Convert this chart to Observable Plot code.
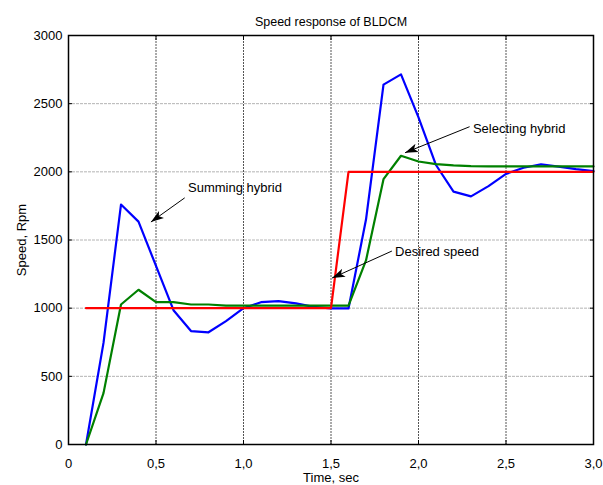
<!DOCTYPE html>
<html>
<head>
<meta charset="utf-8">
<script src="https://cdn.jsdelivr.net/npm/d3@7"></script>
<script src="https://cdn.jsdelivr.net/npm/@observablehq/plot@0.6"></script>
<style>
  html, body { margin: 0; padding: 0; background: #fff; }
  svg { font-family: "Liberation Sans", Arial, sans-serif; }
</style>
</head>
<body>
<div id="chart"></div>
<script>
const time = [0.1,0.2,0.3,0.4,0.5,0.6,0.7,0.8,0.9,1.0,1.1,1.2,1.3,1.4,1.5,1.6,1.7,1.8,1.9,2.0,2.1,2.2,2.3,2.4,2.5,2.6,2.7,2.8,2.9,3.0];
const summingHybrid = [0,745,1760,1635,1310,985,832,823,905,1000,1044,1051,1035,1010,998,998,1650,2640,2715,2400,2050,1855,1820,1895,1985,2030,2055,2038,2020,2005];
const selectingHybrid = [0,377,1027,1135,1044,1044,1027,1027,1018,1018,1018,1018,1018,1018,1018,1018,1350,1946,2118,2076,2057,2048,2042,2040,2040,2040,2040,2040,2040,2040];
const desiredSpeed = [1000,1000,1000,1000,1000,1000,1000,1000,1000,1000,1000,1000,1000,1000,1000,2000,2000,2000,2000,2000,2000,2000,2000,2000,2000,2000,2000,2000,2000,2000];

const xTicks = [0, 0.5, 1.0, 1.5, 2.0, 2.5, 3.0];
const xTickLabels = ["0", "0,5", "1,0", "1,5", "2,0", "2,5", "3,0"];
const yTicks = [0, 500, 1000, 1500, 2000, 2500, 3000];
const yTickLabels = ["0", "500", "1000", "1500", "2000", "2500", "3000"];

const titleText = "Speed response of BLDCM";
const xLabel = "Time, sec";
const yLabel = "Speed, Rpm";

// annotations: label, text anchor point, arrow start, arrow end (data units)
const annotLabels = ["Summing hybrid", "Selecting hybrid", "Desired speed"];
const annotTextX = [0.683, 2.311, 1.866];
const annotTextY = [1882, 2316, 1412];
const annotFromX = [0.664, 2.292, 1.848];
const annotFromY = [1809, 2331, 1419];
const annotToX = [0.471, 1.923, 1.506];
const annotToY = [1632, 2140, 1221];

const series = [
  {name: "Summing hybrid", values: summingHybrid, color: "#0000ff"},
  {name: "Selecting hybrid", values: selectingHybrid, color: "#008000"},
  {name: "Desired speed", values: desiredSpeed, color: "#ff0000"}
];
const rows = series.flatMap(s => time.map((t, i) => ({t, v: s.values[i], name: s.name})));
const annots = annotLabels.map((label, i) => ({
  label, tx: annotTextX[i], ty: annotTextY[i],
  x1: annotFromX[i], y1: annotFromY[i], x2: annotToX[i], y2: annotToY[i]
}));

const fmtX = d => xTickLabels[xTicks.indexOf(d)];
const fmtY = d => yTickLabels[yTicks.indexOf(d)];

const chart = Plot.plot({
  width: 603,
  height: 485,
  marginLeft: 68,
  marginRight: 10,
  marginTop: 35,
  marginBottom: 41,
  style: {fontFamily: "'Liberation Sans', Arial, sans-serif", fontSize: "13px", background: "#fff", color: "#000"},
  x: {domain: [0, 3], ticks: xTicks},
  y: {domain: [0, 3000], ticks: yTicks},
  color: {domain: series.map(s => s.name), range: series.map(s => s.color)},
  marks: [
    Plot.gridX(xTicks, {stroke: "#555", strokeOpacity: 1, strokeWidth: 1, strokeDasharray: "2,1"}),
    Plot.gridY(yTicks, {stroke: "#b4b4b4", strokeOpacity: 1, strokeWidth: 1, strokeDasharray: "3,1"}),
    Plot.axisX(xTicks, {anchor: "bottom", tickSize: -4, tickPadding: 18, tickFormat: fmtX, fontSize: 13, label: xLabel, labelAnchor: "center", labelOffset: 37, labelArrow: "none"}),
    Plot.axisX(xTicks, {anchor: "top", tickSize: -4, tickFormat: () => "", label: null}),
    Plot.axisY(yTicks, {anchor: "left", tickSize: -4, tickPadding: 10, tickFormat: fmtY, fontSize: 13, label: yLabel, labelAnchor: "center", labelOffset: 52, labelArrow: "none"}),
    Plot.axisY(yTicks, {anchor: "right", tickSize: -4, tickFormat: () => "", label: null}),
    Plot.line(rows, {x: "t", y: "v", z: "name", stroke: "name", strokeWidth: 2.2}),
    Plot.frame({stroke: "#000", strokeWidth: 1.5}),
    Plot.link(annots, {x1: "x1", y1: "y1", x2: "x2", y2: "y2", stroke: "#000", strokeWidth: 1, markerEnd: "arrow"}),
    Plot.text(annots, {x: "tx", y: "ty", text: "label", textAnchor: "start", fontSize: 13, fill: "#000"}),
    Plot.text([titleText], {frameAnchor: "top", dy: -18, fontSize: 12.5, fill: "#000"})
  ]
});

// filled arrowheads like the reference annotations
d3.select(chart).selectAll("marker")
  .attr("viewBox", "-12 -5 12 10")
  .attr("markerWidth", 13)
  .attr("markerHeight", 11)
  .attr("markerUnits", "userSpaceOnUse")
  .attr("fill", "#000")
  .attr("stroke", "none")
  .selectAll("path")
  .attr("d", "M-12,-4L0,0L-12,4L-9,0Z");

document.getElementById("chart").appendChild(chart);
</script>
</body>
</html>
